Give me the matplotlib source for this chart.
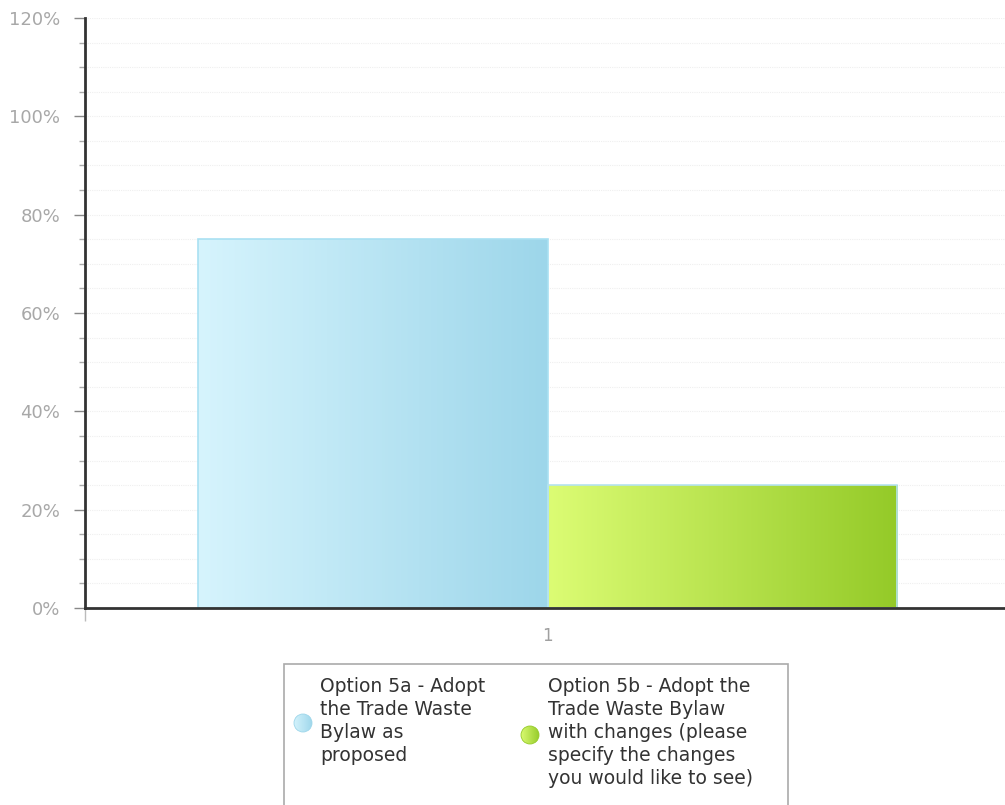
import numpy as np
import matplotlib
matplotlib.use("Agg")
import matplotlib.pyplot as plt
from matplotlib.patches import Rectangle, Circle
from matplotlib.colors import LinearSegmentedColormap
from matplotlib.ticker import MultipleLocator, FuncFormatter

# Survey results
categories = ["1"]
series_labels = [
    "Option 5a - Adopt\nthe Trade Waste\nBylaw as\nproposed",
    "Option 5b - Adopt the\nTrade Waste Bylaw\nwith changes (please\nspecify the changes\nyou would like to see)",
]
series_values = [75, 25]
series_colors = [("#d6f4fd", "#9dd6ea"), ("#dcfc74", "#94ca28")]
edge_colors = ["#a9e0f2", "#b5e3ef"]

W, H = 1005, 805
fig = plt.figure(figsize=(W / 100, H / 100), dpi=100)
ax = fig.add_axes([85 / W, 1 - 608 / H, 925 / W, (608 - 18) / H])

ax.set_xlim(0.5, 1.5)
ax.set_ylim(0, 120)

bar_w = 0.378
offsets = [-bar_w / 2, bar_w / 2]
x_pos = np.arange(1, len(categories) + 1)

grad = np.linspace(0, 1, 256).reshape(1, -1)
for i, (vals, off) in enumerate(zip([series_values[0:1], series_values[1:2]], offsets)):
    cmap = LinearSegmentedColormap.from_list(f"g{i}", series_colors[i])
    bars = ax.bar(x_pos + off, vals, width=bar_w, color="none",
                  edgecolor=edge_colors[i], linewidth=1.2, zorder=3)
    for b in bars:
        x0, y0 = b.get_x(), b.get_y()
        im = ax.imshow(grad, cmap=cmap, aspect="auto", interpolation="bicubic",
                       extent=[x0, x0 + b.get_width(), y0, y0 + b.get_height()],
                       zorder=2)
        im.set_clip_path(b)

# Axis styling
ax.yaxis.set_major_locator(MultipleLocator(20))
ax.yaxis.set_minor_locator(MultipleLocator(5))
ax.yaxis.set_major_formatter(FuncFormatter(lambda v, p: f"{int(v)}%"))
ax.set_xticks(x_pos)
ax.set_xticklabels(categories)
ax.set_xticks([0.5], minor=True)
ax.tick_params(axis="x", which="major", length=0, pad=14, labelsize=12,
               labelcolor="#a0a0a0")
ax.tick_params(axis="x", which="minor", length=9, width=1, color="#bbbbbb",
               direction="out")
ax.tick_params(axis="y", which="major", length=8, width=1, color="#888888",
               labelsize=13, labelcolor="#a8a8a8", pad=10)
ax.tick_params(axis="y", which="minor", length=4, width=1, color="#aaaaaa")
ax.grid(axis="y", which="both", color="#efefef", linestyle=(0, (1, 1)),
        linewidth=0.8, zorder=0)
ax.set_axisbelow(True)
for s in ["top", "right"]:
    ax.spines[s].set_visible(False)
ax.spines["left"].set_color("#333333")
ax.spines["left"].set_linewidth(2)
ax.spines["bottom"].set_color("#333333")
ax.spines["bottom"].set_linewidth(2)
ax.spines["bottom"].set_zorder(4)

# Legend box
legend_box = Rectangle((284 / W, 1 - 810 / H), (788 - 284) / W, (810 - 664) / H,
                       transform=fig.transFigure, facecolor="white",
                       edgecolor="#aaaaaa", linewidth=1.2, zorder=-1)
fig.patches.append(legend_box)
legend_items = [
    (303, 723, 320, series_labels[0]),
    (530, 735, 548, series_labels[1]),
]
for i, (cx, cy, tx, lab) in enumerate(legend_items):
    c1, c2 = series_colors[i]
    ax_m = fig.add_axes([(cx - 10) / W, 1 - (cy + 10) / H, 20 / W, 20 / H])
    ax_m.set_xlim(-1, 1)
    ax_m.set_ylim(-1, 1)
    ax_m.axis("off")
    cmap = LinearSegmentedColormap.from_list(f"m{i}", [c1, c2])
    circ = Circle((0, 0), 0.9, facecolor="none", edgecolor=c2, linewidth=0.6,
                  zorder=3)
    ax_m.add_patch(circ)
    im = ax_m.imshow(grad, cmap=cmap, extent=[-1, 1, -1, 1], aspect="auto")
    im.set_clip_path(circ)
    fig.text(tx / W, 1 - 677 / H, lab, ha="left", va="top", fontsize=13.5,
             color="#333333", linespacing=1.26, family="DejaVu Sans")

fig.savefig("out.png", dpi=100, facecolor="white")
